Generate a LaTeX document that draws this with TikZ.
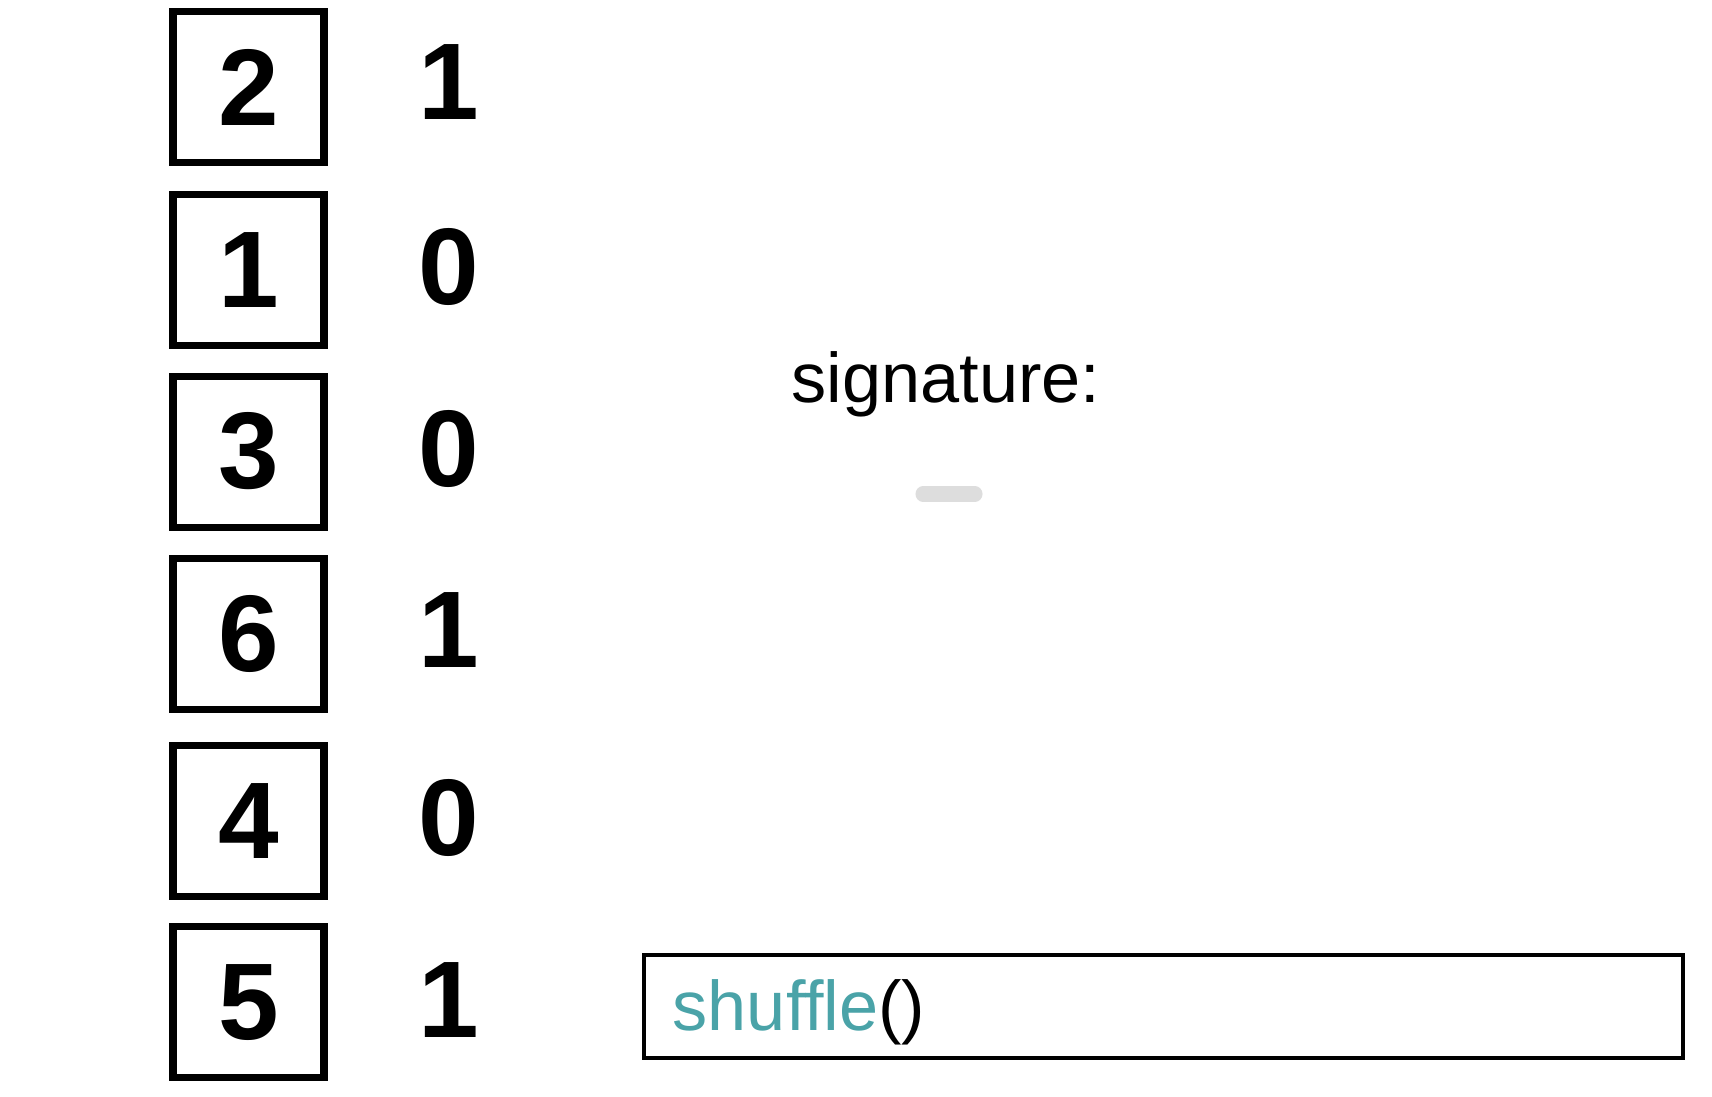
\documentclass[tikz,border=0pt]{standalone}
\usepackage{fontspec}
\setmainfont{Liberation Sans}
\usepackage{tikz}
\usetikzlibrary{positioning}
\definecolor{codeteal}{RGB}{74,163,168}
\definecolor{dashgrey}{RGB}{221,221,221}

\begin{document}
\begin{tikzpicture}[
  digitbox/.style = {draw,line width=2pt,minimum size=1.51cm,inner sep=0pt,font=\fontsize{31}{36}\selectfont\bfseries},
  bit/.style = {font=\fontsize{31}{36}\selectfont\bfseries,inner sep=0pt},
  callbox/.style = {draw,line width=1.3pt,minimum width=10.39cm,minimum height=1.03cm,inner sep=0pt}
  ]
	\useasboundingbox (0,0) rectangle (17.12,-10.96);

	\node[digitbox] (b1) at (2.485,-0.873) {2};
	\node[digitbox] (b2) at (2.485,-2.697) {1};
	\node[digitbox] (b3) at (2.485,-4.515) {3};
	\node[digitbox] (b4) at (2.485,-6.338) {6};
	\node[digitbox] (b5) at (2.485,-8.205) {4};
	\node[digitbox] (b6) at (2.485,-10.023) {5};

	\node[bit] (n1) at (4.485,-0.82) {1};
	\node[bit] (n2) at (4.485,-2.67) {0};
	\node[bit] (n3) at (4.485,-4.49) {0};
	\node[bit] (n4) at (4.485,-6.30) {1};
	\node[bit] (n5) at (4.485,-8.18) {0};
	\node[bit] (n6) at (4.485,-10.00) {1};

	\node[anchor=base,font=\fontsize{20}{24}\selectfont] (sig) at (9.46,-4.02) {signature:};
	\draw[dashgrey,line width=4.3pt,line cap=round] (9.23,-4.94) -- (9.75,-4.94);

	\node[callbox] (call) at (11.635,-10.065) {};
	\node[anchor=base west,inner sep=0pt,font=\fontsize{20}{24}\selectfont] (fn) at (6.72,-10.30) {\textcolor{codeteal}{shuffle}()};

\end{tikzpicture}
\end{document}
